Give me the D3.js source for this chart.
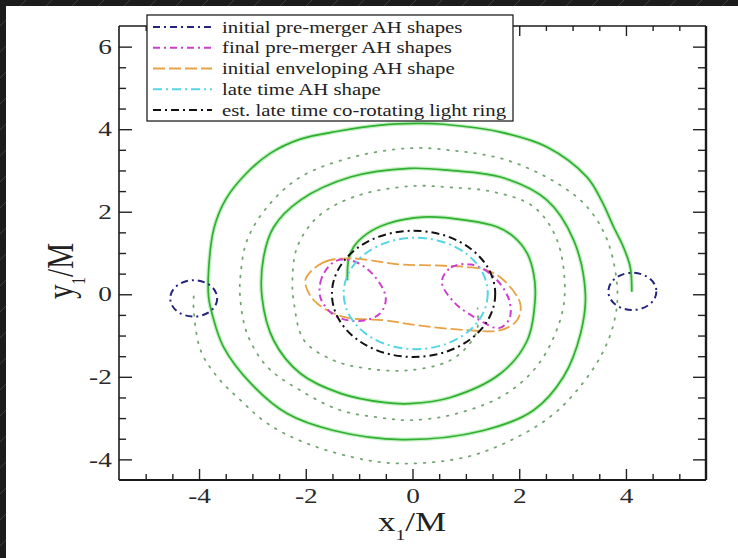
<!DOCTYPE html>
<html>
<head>
<meta charset="utf-8">
<script src="https://cdn.jsdelivr.net/npm/d3@7"></script>
<style>
  html, body { margin: 0; padding: 0; background: #fff; overflow: hidden; }
  svg { display: block; }
  text { font-family: "Liberation Serif", "DejaVu Serif", serif; }
</style>
</head>
<body>
<svg id="chart" width="738" height="558"></svg>
<script>
// axis ranges and tick labels
const xDomain = [-5.5, 5.5];
const yDomain = [-4.5, 6.5];
const xMajorTicks = [-4, -2, 0, 2, 4];
const yMajorTicks = [-4, -2, 0, 2, 4, 6];

// orbit of hole 1 (solid) and hole 2 (dotted)
const orbitSolid = [
  [4.11, 0.06], [4.08, 0.66], [3.95, 1.15], [3.77, 1.63], [3.55, 2.25], [3.27, 2.84],
  [2.52, 3.57], [1.65, 3.93], [0.58, 4.12], [0.1, 4.14], [-0.6, 4.1], [-1.4, 3.95],
  [-2.1, 3.76], [-2.66, 3.42], [-3.12, 2.92], [-3.5, 2.3], [-3.72, 1.6], [-3.82, 0.6],
  [-3.82, -0.07], [-3.75, -0.5], [-3.54, -1.28], [-3.03, -2.16], [-2.35, -2.89],
  [-1.48, -3.3], [-0.2, -3.52], [1.33, -3.3], [2.27, -2.81], [2.83, -2.0], [3.15, -0.95],
  [3.24, 0.0], [3.02, 1.31], [2.52, 2.28], [1.65, 2.84], [0.71, 3.0], [-0.05, 3.05],
  [-1.16, 2.84], [-2.1, 2.28], [-2.6, 1.63], [-2.79, 0.9], [-2.82, -0.07], [-2.6, -1.12],
  [-2.1, -1.92], [-1.35, -2.4], [-0.54, -2.62], [-0.05, -2.65], [0.71, -2.5],
  [1.65, -1.92], [2.15, -1.12], [2.3, -0.07], [2.27, 0.5], [2.15, 0.99], [1.9, 1.39],
  [1.59, 1.63], [1.02, 1.79], [0.2, 1.87], [-0.47, 1.71], [-0.85, 1.47], [-1.1, 1.15],
  [-1.2, 0.82], [-1.22, 0.34]
];
const orbitDotted = [
  [-4.1, -0.05], [-4.1, -0.39], [-3.97, -1.36], [-3.66, -2.0], [-3.22, -2.57],
  [-2.72, -3.13], [-1.97, -3.62], [-0.85, -4.02], [-0.05, -4.1], [1.02, -3.94],
  [1.84, -3.54], [2.58, -2.97], [3.08, -2.33], [3.52, -1.52], [3.77, -0.71],
  [3.84, 0.1], [3.65, 1.31], [3.27, 2.12], [2.71, 2.69], [1.77, 3.25], [0.71, 3.49],
  [-0.05, 3.54], [-1.1, 3.33], [-2.1, 2.84], [-2.72, 2.12], [-3.1, 1.31],
  [-3.22, 0.5], [-3.23, -0.07], [-3.1, -0.95], [-2.72, -1.76], [-2.1, -2.33],
  [-1.35, -2.81], [-0.54, -3.0], [-0.05, -3.05], [0.71, -2.93], [1.65, -2.49],
  [2.27, -1.84], [2.65, -1.03], [2.85, -0.07], [2.71, 1.31], [2.27, 2.12],
  [1.52, 2.48], [0.71, 2.59], [-0.05, 2.62], [-1.1, 2.36], [-1.78, 1.87],
  [-2.16, 1.15], [-2.25, 0.34], [-2.22, -0.23], [-2.03, -1.12], [-1.48, -1.6],
  [-0.85, -1.8], [-0.05, -1.84], [0.71, -1.6], [1.1, -1.15], [1.22, -0.8], [1.22, -0.34]
];

// horizon shapes
const initialAH = [{ cx: -4.1, cy: -0.1, r: 0.44 }, { cx: 4.12, cy: 0.07, r: 0.45 }];
const finalAHLeft = [
  [-1.45, 0.8], [-1.7, 0.4], [-1.72, -0.1], [-1.45, -0.52], [-1.0, -0.65],
  [-0.62, -0.48], [-0.5, -0.1], [-0.72, 0.45], [-1.1, 0.8]
];
const finalAHRight = [
  [0.55, 0.3], [0.72, 0.65], [1.1, 0.72], [1.5, 0.45], [1.8, -0.1],
  [1.82, -0.58], [1.62, -0.82], [1.25, -0.62], [0.8, -0.22]
];
const envelopingAH = [
  [-2.0, 0.38], [-1.66, 0.78], [-1.16, 0.87], [-0.22, 0.72], [0.4, 0.7], [1.02, 0.66],
  [1.4, 0.58], [1.71, 0.34], [2.02, -0.23], [1.96, -0.63], [1.65, -0.87], [1.02, -0.87],
  [0.09, -0.75], [-0.54, -0.63], [-1.29, -0.55], [-1.78, -0.23], [-1.97, 0.1]
];
const lateAH = { cx: 0.06, cy: 0.02, r: 1.35 };
const lightRing = { cx: 0.02, cy: 0.01, r: 1.53 };

const legendLabels = [
  "initial pre-merger AH shapes",
  "final pre-merger AH shapes",
  "initial enveloping AH shape",
  "late time AH shape",
  "est. late time co-rotating light ring"
];

const styles = {
  blue:    { stroke: "#24247e", width: 2,   dash: "7,4,2,4" },
  magenta: { stroke: "#cc3fcc", width: 2,   dash: "7,4,2,4" },
  orange:  { stroke: "#e8a245", width: 1.8, dash: "12,4" },
  cyan:    { stroke: "#55d6e6", width: 2,   dash: "9,4,2,4" },
  black:   { stroke: "#111111", width: 2,   dash: "8,4,2,4" }
};
const legendStyles = [styles.blue, styles.magenta, styles.orange, styles.cyan, styles.black];

const W = 738, H = 558;
const plot = { left: 119, right: 706, top: 26, bottom: 480 };
const stretch = 1.3; // the source picture is stretched sideways, text included

const svg = d3.select("#chart");

// dark striped strip along the top and left edges
const defs = svg.append("defs");
const pat = defs.append("pattern").attr("id", "stripes")
  .attr("patternUnits", "userSpaceOnUse").attr("width", 26).attr("height", 26);
pat.append("rect").attr("width", 26).attr("height", 26).attr("fill", "#1c1c1c");
pat.append("line").attr("x1", 0).attr("y1", 26).attr("x2", 26).attr("y2", 0)
  .attr("stroke", "#3c3c3c").attr("stroke-width", 1);
svg.append("rect").attr("width", W).attr("height", H).attr("fill", "url(#stripes)");
svg.append("rect").attr("x", 6).attr("y", 6).attr("width", W - 6).attr("height", H - 6).attr("fill", "#fff");

const x = d3.scaleLinear().domain(xDomain).range([plot.left, plot.right]);
const y = d3.scaleLinear().domain(yDomain).range([plot.bottom, plot.top]);

const xMinor = x.ticks(22).filter(v => !xMajorTicks.includes(v) && v > xDomain[0] && v < xDomain[1]);
const yMinor = y.ticks(22).filter(v => !yMajorTicks.includes(v) && v > yDomain[0] && v < yDomain[1]);

const fmt = d => String(d);

function styleAxis(g, labelled) {
  g.select(".domain").remove();
  g.selectAll(".tick line").attr("stroke", "#222").attr("stroke-width", 1.4);
  if (labelled) {
    g.selectAll(".tick text").attr("font-size", 21).attr("fill", "#2a2a2a")
      .attr("font-family", "Liberation Serif, serif")
      .attr("transform", `scale(${stretch},1)`);
  } else {
    g.selectAll(".tick text").remove();
  }
}

// bottom
svg.append("g").attr("transform", `translate(0,${plot.bottom})`)
  .call(d3.axisBottom(x).tickValues(xMajorTicks).tickSize(-11).tickPadding(8).tickFormat(fmt))
  .call(g => styleAxis(g, true));
svg.append("g").attr("transform", `translate(0,${plot.bottom})`)
  .call(d3.axisBottom(x).tickValues(xMinor).tickSize(-6))
  .call(g => styleAxis(g, false));
// top
svg.append("g").attr("transform", `translate(0,${plot.top})`)
  .call(d3.axisTop(x).tickValues(xMajorTicks).tickSize(-10))
  .call(g => styleAxis(g, false));
svg.append("g").attr("transform", `translate(0,${plot.top})`)
  .call(d3.axisTop(x).tickValues(xMinor).tickSize(-5))
  .call(g => styleAxis(g, false));
// left
svg.append("g").attr("transform", `translate(${plot.left},0)`)
  .call(d3.axisLeft(y).tickValues(yMajorTicks).tickSize(-13).tickPadding(5.5).tickFormat(fmt))
  .call(g => styleAxis(g, true));
svg.append("g").attr("transform", `translate(${plot.left},0)`)
  .call(d3.axisLeft(y).tickValues(yMinor).tickSize(-7))
  .call(g => styleAxis(g, false));
// right
svg.append("g").attr("transform", `translate(${plot.right},0)`)
  .call(d3.axisRight(y).tickValues(yMajorTicks).tickSize(-13))
  .call(g => styleAxis(g, false));
svg.append("g").attr("transform", `translate(${plot.right},0)`)
  .call(d3.axisRight(y).tickValues(yMinor).tickSize(-8))
  .call(g => styleAxis(g, false));

// frame
const frame = svg.append("g").attr("stroke", "#1a1a1a").attr("fill", "none");
frame.append("line").attr("x1", plot.left).attr("x2", plot.right).attr("y1", plot.top).attr("y2", plot.top).attr("stroke-width", 1.5);
frame.append("line").attr("x1", plot.left).attr("x2", plot.right).attr("y1", plot.bottom).attr("y2", plot.bottom).attr("stroke-width", 2);
frame.append("line").attr("x1", plot.left).attr("x2", plot.left).attr("y1", plot.top).attr("y2", plot.bottom).attr("stroke-width", 1.6);
frame.append("line").attr("x1", plot.right).attr("x2", plot.right).attr("y1", plot.top).attr("y2", plot.bottom).attr("stroke-width", 2.4);

const marks = svg.append("g");
const openLine = d3.line().x(d => x(d[0])).y(d => y(d[1])).curve(d3.curveCatmullRom.alpha(0.5));
const closedLine = d3.line().x(d => x(d[0])).y(d => y(d[1])).curve(d3.curveCatmullRomClosed.alpha(0.5));

// orbits
marks.append("path").attr("d", openLine(orbitDotted)).attr("fill", "none")
  .attr("stroke", "#73a673").attr("stroke-width", 1.8).attr("stroke-dasharray", "1.6,7.5")
  .attr("stroke-linecap", "round");
marks.append("path").attr("d", openLine(orbitSolid)).attr("fill", "none")
  .attr("stroke", "#c6f0c6").attr("stroke-width", 4.2);
marks.append("path").attr("d", openLine(orbitSolid)).attr("fill", "none")
  .attr("stroke", "#30b030").attr("stroke-width", 1.7);

function applyStyle(sel, s) {
  sel.attr("fill", "none").attr("stroke", s.stroke).attr("stroke-width", s.width)
    .attr("stroke-dasharray", s.dash);
}

marks.selectAll(".initAH").data(initialAH).join("ellipse").attr("class", "initAH")
  .attr("cx", d => x(d.cx)).attr("cy", d => y(d.cy))
  .attr("rx", d => x(d.r) - x(0)).attr("ry", d => y(0) - y(d.r))
  .call(applyStyle, styles.blue);

marks.append("path").attr("d", closedLine(envelopingAH)).call(applyStyle, styles.orange);
marks.append("path").attr("d", closedLine(finalAHLeft)).call(applyStyle, styles.magenta);
marks.append("path").attr("d", closedLine(finalAHRight)).call(applyStyle, styles.magenta);

marks.append("ellipse").datum(lateAH)
  .attr("cx", d => x(d.cx)).attr("cy", d => y(d.cy))
  .attr("rx", d => x(d.r) - x(0)).attr("ry", d => y(0) - y(d.r))
  .call(applyStyle, styles.cyan);
marks.append("ellipse").datum(lightRing)
  .attr("cx", d => x(d.cx)).attr("cy", d => y(d.cy))
  .attr("rx", d => x(d.r) - x(0)).attr("ry", d => y(0) - y(d.r))
  .call(applyStyle, styles.black);

// legend
const legend = svg.append("g");
legend.append("rect").attr("x", 147).attr("y", 15).attr("width", 366).attr("height", 106)
  .attr("fill", "#fff").attr("stroke", "#222").attr("stroke-width", 1.3);
const rows = legend.selectAll(".row").data(legendLabels).join("g").attr("class", "row")
  .attr("transform", (d, i) => `translate(0,${27 + i * 20.75})`);
rows.append("line").attr("x1", 153).attr("x2", 212).attr("y1", 0).attr("y2", 0)
  .each(function (d, i) { applyStyle(d3.select(this), legendStyles[i]); });
rows.append("text").attr("transform", `translate(222,0) scale(${stretch},1)`)
  .attr("dy", "0.35em").attr("font-size", 16).attr("fill", "#222").text(d => d);

// axis titles
const xt = svg.append("text").attr("transform", `translate(412,531) scale(${stretch},1)`)
  .attr("text-anchor", "middle").attr("font-size", 27).attr("fill", "#222");
xt.append("tspan").text("x");
xt.append("tspan").attr("font-size", 15).attr("dy", 9).text("1");
xt.append("tspan").attr("dy", -9).text("/M");

const yt = svg.append("text").attr("transform", `translate(73,271) rotate(-90) scale(1,${stretch})`)
  .attr("text-anchor", "middle").attr("font-size", 29).attr("fill", "#222");
yt.append("tspan").text("y");
yt.append("tspan").attr("font-size", 15).attr("dy", 9).text("1");
yt.append("tspan").attr("dy", -9).text("/M");
</script>
</body>
</html>
